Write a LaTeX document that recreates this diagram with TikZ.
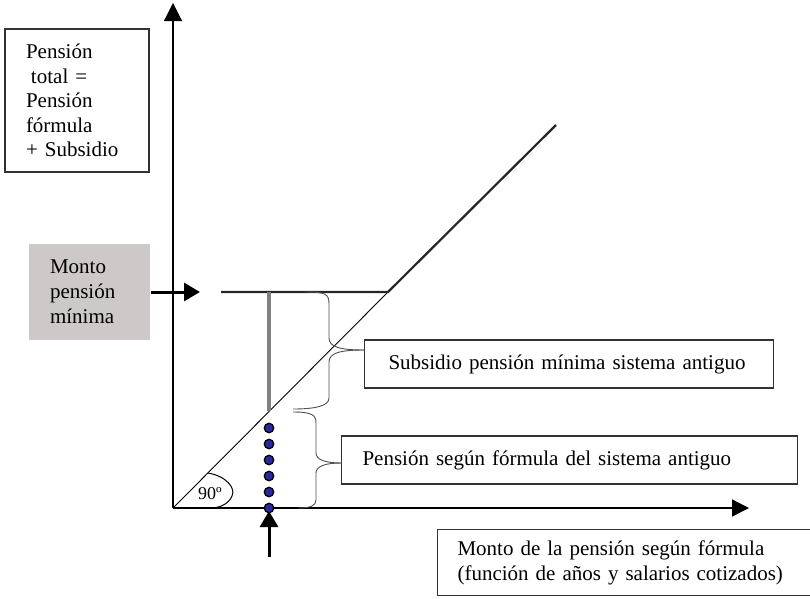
\documentclass[tikz,border=0pt]{standalone}
\usepackage{fontspec}
\setmainfont{Liberation Serif}
\usetikzlibrary{arrows.meta}
\definecolor{boxgray}{RGB}{205,201,200}
\definecolor{dotblue}{RGB}{40,40,150}
\definecolor{bracegray}{RGB}{80,80,80}
\definecolor{edgecol}{RGB}{50,50,50}
\definecolor{bargray}{RGB}{128,128,128}
\begin{document}
\begin{tikzpicture}[x=1pt,y=-1pt,
  txt/.style={font=\fontsize{21}{24.5}\selectfont},
  lbl/.style={txt, draw=edgecol, line width=1.1pt, rectangle, inner ysep=0pt, align=left},
  axisarrow/.style={line width=1.2pt, -{Triangle[length=18pt,width=18pt]}},
  thickarrow/.style={line width=3pt, -{Triangle[length=16pt,width=18pt]}},
  brace/.style={draw=bracegray, line width=0.9pt},
  dot/.style={circle, draw=black, line width=1.2pt, fill=dotblue, minimum size=9.5pt, inner sep=0pt}]
\useasboundingbox (0,0) rectangle (810,598);

% coordinates
\coordinate (O) at (173,508);
\coordinate (ytip) at (173,3);
\coordinate (xtip) at (749,508);
\coordinate (K) at (388,292);
\coordinate (T) at (556,125);
\coordinate (H) at (221,292);
\coordinate (mtip) at (200,292);
\coordinate (btail) at (269,557);
\coordinate (btip) at (269,511);
\coordinate (G1) at (269,292);
\coordinate (G2) at (269,411);
\coordinate (ub) at (364,350);
\coordinate (lb) at (341,463);

% boxes
\node[lbl, minimum width=144pt, minimum height=143pt, text width=102pt, inner xsep=21pt] (total) at (77,100.5)
  {Pensión\\\hspace*{5pt}total =\\Pensión\\fórmula\\+ Subsidio};
\node[lbl, draw=none, fill=boxgray, font=\fontsize{21}{25}\selectfont, minimum width=121pt, minimum height=96pt, text width=79pt, inner xsep=21pt] (mon) at (89.5,292)
  {Monto\\pensión\\mínima};
\node[lbl, anchor=west, minimum height=48pt, text width=361pt, inner xsep=24pt] (sub) at (364,364)
  {Subsidio pensión mínima sistema antiguo};
\node[lbl, anchor=west, minimum height=48pt, text width=414pt, inner xsep=21pt] (form) at (341,460)
  {Pensión según fórmula del sistema antiguo};
\node[lbl, anchor=north west, font=\fontsize{21}{25}\selectfont, minimum height=66pt, text width=338pt, inner xsep=20pt] (axl) at (437,529)
  {Monto de la pensión según fórmula\\(función de años y salarios cotizados)};

% axes
\draw[axisarrow] (O) -- (ytip);
\draw[axisarrow, -{Triangle[length=17pt,width=17pt]}] (O) -- (xtip);

% lines
\draw[line width=0.9pt] (O) -- (K);
\draw[line width=2.2pt, black!85] (H) -- (K) -- (T);
\draw[thickarrow] (mon.east) -- (mtip);
\draw[line width=3.5pt, bargray] (G1) -- (G2);

% braces
\draw[brace] (305,292) .. controls (326,292) and (329,294) .. (329,304) -- (329,338) .. controls (329,347) and (340,350) .. (ub);
\draw[brace] (ub) .. controls (340,350) and (329,353) .. (329,362) -- (329,398) .. controls (329,406) and (315,409) .. (293,409);
\draw[brace] (293,412) .. controls (312,412) and (316,415) .. (316,423) -- (316,453) .. controls (316,460) and (326,463) .. (lb);
\draw[brace] (lb) .. controls (326,463) and (316,466) .. (316,473) -- (316,500) .. controls (316,506) and (310,508) .. (298,508);

% angle
\draw[line width=1pt] (208,473) .. controls (226,476) and (236,488) .. (232,496) .. controls (229,503) and (222,507) .. (213,508);
\node[font=\fontsize{18}{20}\selectfont, inner sep=0pt] (ang) at (210,494) {90º};

% bottom arrow and dots
\draw[thickarrow] (btail) -- (btip);
\foreach \i in {0,...,5} \node[dot] (d\i) at (269,428+16*\i) {};
\end{tikzpicture}
\end{document}
